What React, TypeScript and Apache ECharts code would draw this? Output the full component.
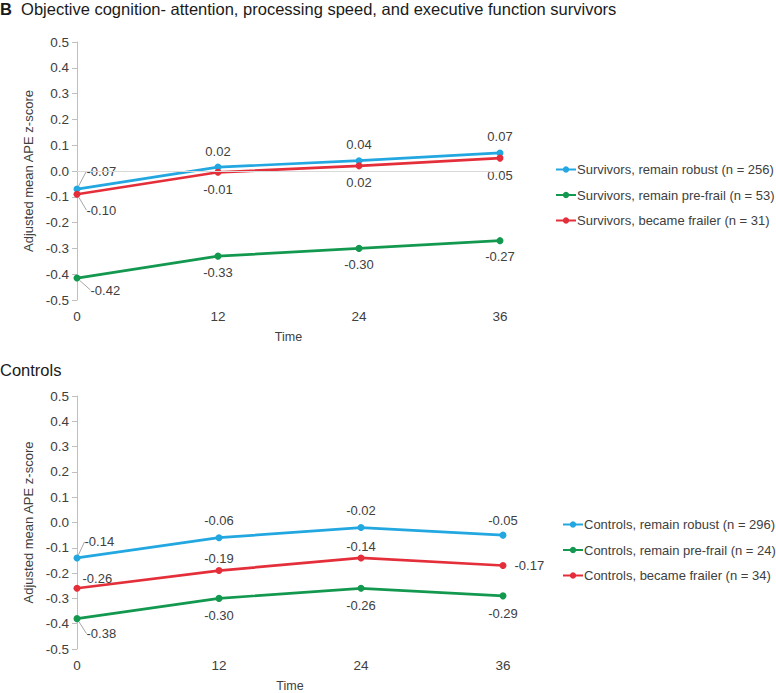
import React, { useEffect, useRef } from "react";
import * as echarts from "echarts";

const months = [0, 12, 24, 36];

const survivorNames = [
  "Survivors, remain robust (n = 256)",
  "Survivors, remain pre-frail (n = 53)",
  "Survivors, became frailer (n = 31)",
];
const survRobust = [-0.07, 0.015, 0.04, 0.07];
const survPrefrail = [-0.415, -0.33, -0.30, -0.27];
const survFrailer = [-0.09, -0.005, 0.02, 0.05];
const survRobustLbl = ["-0.07", "0.02", "0.04", "0.07"];
const survPrefrailLbl = ["-0.42", "-0.33", "-0.30", "-0.27"];
const survFrailerLbl = ["-0.10", "-0.01", "0.02", "0.05"];

const controlNames = [
  "Controls, remain robust (n = 296)",
  "Controls, remain pre-frail (n = 24)",
  "Controls, became frailer (n = 34)",
];
const ctrlRobust = [-0.14, -0.06, -0.02, -0.05];
const ctrlPrefrail = [-0.38, -0.30, -0.26, -0.29];
const ctrlFrailer = [-0.26, -0.19, -0.14, -0.17];
const ctrlRobustLbl = ["-0.14", "-0.06", "-0.02", "-0.05"];
const ctrlPrefrailLbl = ["-0.38", "-0.30", "-0.26", "-0.29"];
const ctrlFrailerLbl = ["-0.26", "-0.19", "-0.14", "-0.17"];

const BLUE = "#22A7E0";
const GREEN = "#13994F";
const RED = "#E42F3A";
const TXT = "#404040";
const AX = "#BFBFBF";
const FONT = 'Arial, "Liberation Sans", sans-serif';

// label placement per point: [position, distance, dx, dy, leader]
type LP = [string, number, number, number, boolean];
const survRobustPos: LP[] = [["right", 4, 2, -18, true], ["top", 6, 0, 0, false], ["top", 6, 0, 0, false], ["top", 6, 0, 0, false]];
const survPrefrailPos: LP[] = [["right", 8, 2, 12, true], ["bottom", 6, 0, 0, false], ["bottom", 6, 0, 0, false], ["bottom", 6, 0, 0, false]];
const survFrailerPos: LP[] = [["right", 4, 2, 16, true], ["bottom", 7, 0, 0, false], ["bottom", 7, 0, 0, false], ["bottom", 7, 0, 0, false]];
const ctrlRobustPos: LP[] = [["right", 2, 2, -16, true], ["top", 7, 0, 0, false], ["top", 7, 0, 0, false], ["top", 5, 0, 0, false]];
const ctrlPrefrailPos: LP[] = [["right", 4, 2, 15, true], ["bottom", 7, 0, 0, false], ["bottom", 7, 0, 0, false], ["bottom", 8, 0, 0, false]];
const ctrlFrailerPos: LP[] = [["right", 2, 0, -10, false], ["top", 2, 0, 0, false], ["top", 1, 0, 0, false], ["right", 8, 0, 0, false]];

function makeSeries(
  name: string,
  vals: number[],
  lbls: string[],
  pos: LP[],
  color: string,
  gi: number
) {
  return {
    type: "line",
    name,
    xAxisIndex: gi,
    yAxisIndex: gi,
    symbol: "circle",
    symbolSize: 7,
    lineStyle: { width: 2.7, color },
    itemStyle: { color },
    data: vals.map((v, i) => ({
      value: [months[i], v],
      label: {
        show: true,
        position: pos[i][0],
        distance: pos[i][1],
        formatter: () => lbls[i],
      },
      labelLine: {
        show: pos[i][4],
        lineStyle: { color: "#A6A6A6", width: 1 },
      },
    })),
    label: { color: TXT, fontSize: 13, fontFamily: FONT },
    labelLayout: (p: any) => {
      const q = pos[p.dataIndex];
      if (!q || (q[2] === 0 && q[3] === 0)) return {};
      return { dx: q[2], dy: q[3] };
    },
  };
}

const yFmt = (v: number) => {
  const r = Math.round(v * 10) / 10;
  return (Math.abs(r) < 1e-9 ? 0 : r).toFixed(1);
};

function yAxis(gi: number) {
  return {
    type: "value",
    gridIndex: gi,
    min: -0.5,
    max: 0.5,
    interval: 0.1,
    name: "Adjusted mean APE z-score",
    nameLocation: "middle",
    nameGap: 38,
    nameTextStyle: { color: TXT, fontSize: 13, fontFamily: FONT },
    axisLine: { show: true, lineStyle: { color: AX, width: 1 } },
    axisTick: { show: true, length: 5, lineStyle: { color: AX } },
    axisLabel: { color: TXT, fontSize: 13.5, fontFamily: FONT, margin: 8, formatter: yFmt },
    splitLine: { show: false },
  };
}

function xAxis(gi: number) {
  return {
    type: "value",
    gridIndex: gi,
    min: 0,
    max: 36,
    interval: 12,
    name: "Time",
    nameLocation: "middle",
    nameGap: 30,
    nameTextStyle: { color: TXT, fontSize: 12.5, fontFamily: FONT },
    axisLine: { show: false },
    axisTick: { show: false },
    axisLabel: { color: TXT, fontSize: 13.5, fontFamily: FONT, margin: 9 },
    splitLine: { show: false },
  };
}

export default function App() {
  const ref = useRef<HTMLDivElement>(null);
  useEffect(() => {
    if (!ref.current) return;
    const chart = echarts.init(ref.current, undefined, { renderer: "svg" });
    const s1 = [
      makeSeries(survivorNames[0], survRobust, survRobustLbl, survRobustPos, BLUE, 0),
      makeSeries(survivorNames[1], survPrefrail, survPrefrailLbl, survPrefrailPos, GREEN, 0),
      makeSeries(survivorNames[2], survFrailer, survFrailerLbl, survFrailerPos, RED, 0),
    ];
    (s1[0] as any).markLine = {
      silent: true,
      symbol: "none",
      label: { show: false },
      lineStyle: { color: "#D9D9D9", type: "solid", width: 1 },
      data: [{ yAxis: 0 }],
    };
    (s1[0] as any).z = 3;
    const s2 = [
      makeSeries(controlNames[0], ctrlRobust, ctrlRobustLbl, ctrlRobustPos, BLUE, 1),
      makeSeries(controlNames[1], ctrlPrefrail, ctrlPrefrailLbl, ctrlPrefrailPos, GREEN, 1),
      makeSeries(controlNames[2], ctrlFrailer, ctrlFrailerLbl, ctrlFrailerPos, RED, 1),
    ];
    const legendBase = {
      orient: "vertical",
      padding: 0,
      itemWidth: 20,
      itemHeight: 8,
      itemGap: 12.5,
      textStyle: { color: TXT, fontSize: 13, fontFamily: FONT, padding: [0, 0, 0, -4] },
      selectedMode: false,
    };
    chart.setOption({
      animation: false,
      backgroundColor: "#ffffff",
      title: [
        {
          left: 0,
          top: 0,
          padding: 0,
          text: "{b|B}  Objective cognition- attention, processing speed, and executive function survivors",
          textStyle: {
            fontSize: 16.5,
            fontWeight: "normal",
            color: "#1a1a1a",
            fontFamily: FONT,
            rich: { b: { fontSize: 16.5, fontWeight: "bold", color: "#1a1a1a", fontFamily: FONT } },
          },
        },
        {
          left: 0,
          top: 361,
          padding: 0,
          text: "Controls",
          textStyle: { fontSize: 16.5, fontWeight: "normal", color: "#1a1a1a", fontFamily: FONT },
        },
      ],
      legend: [
        { ...legendBase, left: 555, top: 163, data: survivorNames },
        { ...legendBase, left: 562, top: 518, data: controlNames },
      ],
      grid: [
        { left: 77, top: 42, width: 423, height: 258 },
        { left: 77, top: 396, width: 426, height: 258 },
      ],
      xAxis: [xAxis(0), xAxis(1)],
      yAxis: [yAxis(0), yAxis(1)],
      series: [...s1, ...s2],
    });
    return () => chart.dispose();
  }, []);
  return (
    <div
      ref={ref}
      style={{ position: "fixed", left: 0, top: 0, width: 776, height: 693, background: "#fff" }}
    />
  );
}
